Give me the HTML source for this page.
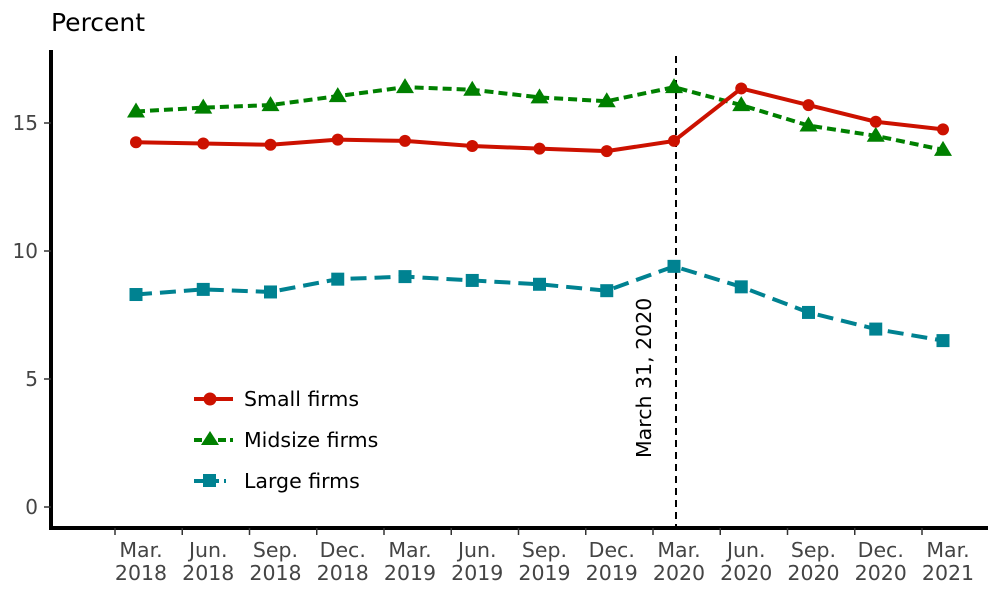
<!DOCTYPE html>
<html><head><meta charset="utf-8"><style>
body{margin:0;background:#fff;}
svg text{font-family:"DejaVu Sans","Liberation Sans",sans-serif;}
</style></head><body>
<svg width="1000" height="595" viewBox="0 0 1000 595">
<text x="51" y="31" font-size="25" fill="#000">Percent</text>
<line x1="676" y1="56" x2="676" y2="528" stroke="#000" stroke-width="2" stroke-dasharray="7,5"/>
<text transform="translate(651,458) rotate(-90)" font-size="20.5" fill="#000">March 31, 2020</text>
<g id="series"></g>
<line x1="51" y1="50" x2="51" y2="530" stroke="#000" stroke-width="4"/>
<line x1="49" y1="528" x2="988" y2="528" stroke="#000" stroke-width="4"/>
<g id="axes"></g>
<g>
<g><line x1="194" y1="399" x2="233" y2="399" stroke="#cc1100" stroke-width="4"/><circle cx="210" cy="399" r="6.5" fill="#cc1100"/><text x="244" y="406" font-size="20.5">Small firms</text></g>
<g><line x1="194" y1="440" x2="233" y2="440" stroke="#008000" stroke-width="4" stroke-dasharray="8,4"/><polygon points="210,431 219,445 201,445" fill="#008000"/><text x="244" y="447" font-size="20.5">Midsize firms</text></g>
<g><line x1="194" y1="481" x2="226" y2="481" stroke="#008291" stroke-width="4" stroke-dasharray="10,5"/><rect x="203" y="474" width="13" height="13" fill="#008291"/><text x="244" y="488" font-size="20.5">Large firms</text></g>
</g>
</svg>
<script>
const months=["Mar.","Jun.","Sep.","Dec.","Mar.","Jun.","Sep.","Dec.","Mar.","Jun.","Sep.","Dec.","Mar."];
const years=["2018","2018","2018","2018","2019","2019","2019","2019","2020","2020","2020","2020","2021"];
const small=[14.25,14.2,14.15,14.35,14.3,14.1,14.0,13.9,14.3,16.35,15.7,15.05,14.75];
const midsize=[15.45,15.6,15.7,16.05,16.4,16.3,16.0,15.85,16.4,15.7,14.9,14.5,13.95];
const large=[8.3,8.5,8.4,8.9,9.0,8.85,8.7,8.45,9.4,8.6,7.6,6.95,6.5];
const yTicks=[0,5,10,15];
const NS="http://www.w3.org/2000/svg";
const X=i=>136+i*67.25, Y=v=>507-v*25.6;
function mk(t,a,p){const e=document.createElementNS(NS,t);for(const k in a)e.setAttribute(k,a[k]);p.appendChild(e);return e;}
const ax=document.getElementById('axes'), sg=document.getElementById('series');
yTicks.forEach(v=>{
 const t=mk('line',{x1:44,x2:51,y1:Y(v),y2:Y(v),stroke:'#333','stroke-width':1.5},ax);
 
 
 const l=mk('text',{x:38,y:Y(v)+7,'font-size':20,fill:'#444','text-anchor':'end'},ax);l.textContent=v;
 
 
});
months.forEach((m,i)=>{
 const tx=X(i)-21;
 const t=mk('line',{x1:tx,x2:tx,y1:528,y2:535,stroke:'#333','stroke-width':1.5},ax);
 
 
 const l=mk('text',{x:X(i)+5,y:557,'font-size':20.5,fill:'#444','text-anchor':'middle'},ax);
 
 
 const a=mk('tspan',{x:X(i)+5},l);a.textContent=m;
 const b=mk('tspan',{x:X(i)+5,dy:23},l);b.textContent=years[i];
});
function series(d,color,dash,shape,name){
 const g=mk('g',{},sg);
 
 
 mk('polyline',{points:d.map((v,i)=>X(i)+','+Y(v)).join(' '),fill:'none',stroke:color,'stroke-width':4,'stroke-dasharray':dash},g);
 d.forEach((v,i)=>{
  const x=X(i),y=Y(v);let e;
  if(shape==='c')e=mk('circle',{cx:x,cy:y,r:6,fill:color},g);
  else if(shape==='t')e=mk('polygon',{points:`${x},${y-9} ${x+9},${y+6} ${x-9},${y+6}`,fill:color},g);
  else e=mk('rect',{x:x-6.5,y:y-6.5,width:13,height:13,fill:color},g);
  
  
 });
}
series(large,'#008291','16,8','s','large-firms-line');
series(midsize,'#008000','9,5','t','midsize-firms-line');
series(small,'#cc1100','none','c','small-firms-line');
</script>
</body></html>
